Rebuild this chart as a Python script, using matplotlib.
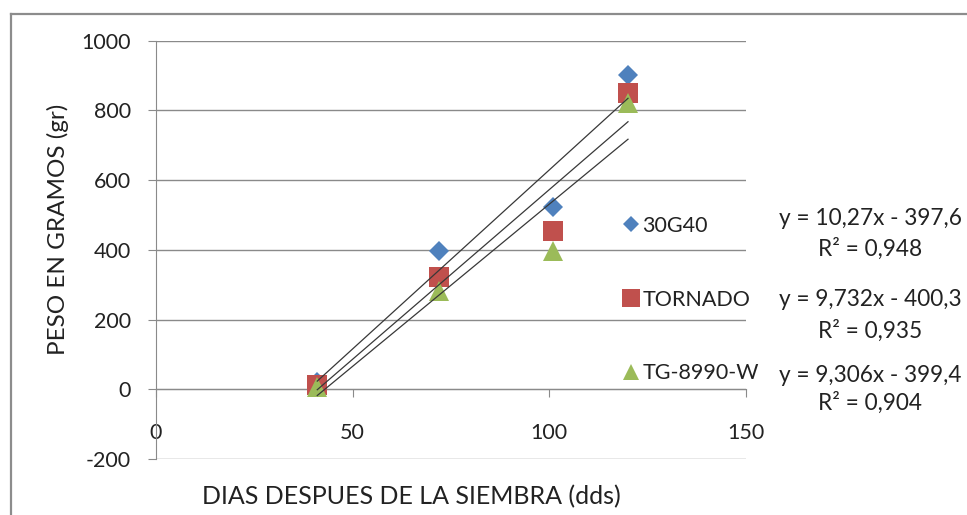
import matplotlib
matplotlib.use("Agg")
import matplotlib.pyplot as plt
from matplotlib.lines import Line2D

plt.rcParams["font.family"] = ["Lato", "DejaVu Sans"]

# days after sowing
dias = [41, 72, 101, 120]

# weight in grams per variety
peso_30g40 = [20, 398, 524, 902]
peso_tornado = [12, 322, 454, 849]
peso_tg8990 = [6, 283, 397, 820]

series_names = ["30G40", "TORNADO", "TG-8990-W"]
# linear trend coefficients (slope, intercept) and R2 as shown on the chart
trend_slope = [10.27, 9.732, 9.306]
trend_intercept = [-397.6, -400.3, -399.4]
trend_r2 = [0.948, 0.935, 0.904]

y_ticks = [-200, 0, 200, 400, 600, 800, 1000]
x_ticks = [0, 50, 100, 150]

colors = ["#4F81BD", "#C0504D", "#9BBB59"]
markers = ["D", "s", "^"]
msizes = [10.0, 15.0, 14.0]
leg_sizes = [8.0, 12.5, 12.0]
grid_col = "#8a8a8a"
txt_col = "#222222"
fs = 15.5

fig = plt.figure(figsize=(9.67, 5.15), dpi=100)
ax = fig.add_axes([156 / 967, 1 - 459 / 515, 590 / 967, 418.3 / 515])

ax.set_xlim(0, 150)
ax.set_ylim(-200, 1000)
ax.set_yticks(y_ticks)
ax.set_xticks(x_ticks)
ax.set_yticklabels([str(v) for v in y_ticks])
ax.set_xticklabels([str(v) for v in x_ticks])

for v in y_ticks:
    ax.axhline(v, color=grid_col, lw=1.0, zorder=1)

for s in ["top", "right"]:
    ax.spines[s].set_visible(False)
ax.spines["left"].set_color(grid_col)
ax.spines["bottom"].set_color(grid_col)
ax.spines["bottom"].set_position(("data", 0))
ax.tick_params(axis="y", direction="out", length=6, width=0.8, color=grid_col,
               pad=12, labelsize=fs, labelcolor=txt_col)
ax.tick_params(axis="x", direction="out", length=6, width=0.8, color=grid_col,
               pad=18, labelsize=fs, labelcolor=txt_col)

all_y = [peso_30g40, peso_tornado, peso_tg8990]
for name, ys, c, m, ms in zip(series_names, all_y, colors, markers, msizes):
    ax.plot(dias, ys, linestyle="none", marker=m, color=c, markersize=ms,
            markeredgewidth=0, zorder=3, label=name, clip_on=False)

# trend lines
for a, b in zip(trend_slope, trend_intercept):
    x0, x1 = dias[0], dias[-1]
    ax.plot([x0, x1], [a * x0 + b, a * x1 + b], color="#383838", lw=0.9, zorder=4)

# legend
handles = [Line2D([], [], linestyle="none", marker=m, color=c, markersize=ms,
                  markeredgewidth=0)
           for c, m, ms in zip(colors, markers, leg_sizes)]
fig.legend(handles, series_names, loc="upper left",
           bbox_to_anchor=(612 / 967, 1 - 205 / 515), frameon=False,
           fontsize=fs, labelspacing=2.5, handlelength=0.75, handletextpad=0.15,
           borderpad=0, labelcolor=txt_col)

# trendline equations
eq_y = [218, 300, 375]
r2_y = [249, 331, 403]
for a, b, r2, yy, ry in zip(trend_slope, trend_intercept, trend_r2, eq_y, r2_y):
    slope_txt = f"{a:g}".replace(".", ",")
    inter_txt = f"{abs(b):g}".replace(".", ",")
    r2_txt = f"{r2:.3f}".replace(".", ",")
    fig.text(870 / 967, 1 - yy / 515, f"y = {slope_txt}x - {inter_txt}",
             ha="center", va="center", fontsize=16.3, color=txt_col)
    fig.text(870 / 967, 1 - ry / 515, f"R\u00b2 = {r2_txt}",
             ha="center", va="center", fontsize=16.3, color=txt_col)

fig.text(58 / 967, 1 - 229 / 515, "PESO EN GRAMOS (gr)", rotation=90,
         ha="center", va="center", fontsize=17.5, color=txt_col)
fig.text(202 / 967, 1 - 497 / 515, "DIAS DESPUES DE LA SIEMBRA (dds)",
         ha="left", va="center", fontsize=18, color=txt_col)

# outer chart border (only top and left edges visible)
fig.add_artist(Line2D([11 / 967, 1.0], [1 - 14 / 515, 1 - 14 / 515],
                      transform=fig.transFigure, color="#8c8c8c", lw=1.6))
fig.add_artist(Line2D([11 / 967, 11 / 967], [0.0, 1 - 14 / 515],
                      transform=fig.transFigure, color="#8c8c8c", lw=1.6))

fig.savefig("out.png", dpi=100)
